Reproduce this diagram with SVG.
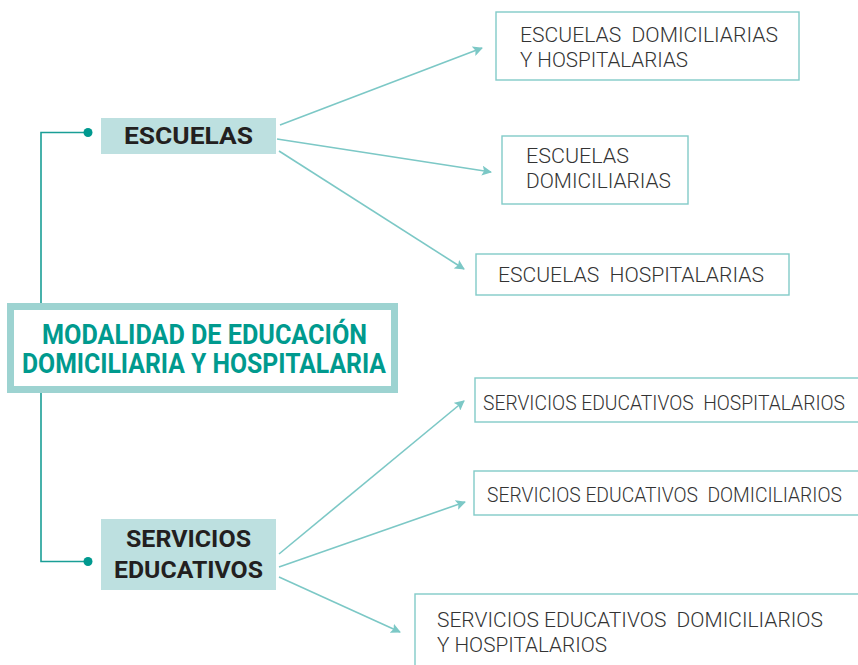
<svg xmlns="http://www.w3.org/2000/svg" width="858" height="665" viewBox="0 0 858 665">
<style>
.leaf{fill:#fff;stroke:#82cbc8;stroke-width:1.4}
.lt{font-family:Roboto,"Liberation Sans",sans-serif;font-weight:300;font-size:19.5px;fill:#333;white-space:pre}
.cat{fill:#bde0e0}
.ct{font-family:Roboto,"Liberation Sans",sans-serif;font-weight:700;font-size:23px;fill:#231f20;text-anchor:middle}
.mt{font-family:Roboto,"Liberation Sans",sans-serif;font-weight:700;font-size:27px;fill:#009a8e}
.arr{stroke:#7cc8c6;stroke-width:1.6;fill:none;marker-end:url(#ah)}
.tree{stroke:#1a9e96;stroke-width:1.6;fill:none}
</style>
<defs>
<marker id="ah" viewBox="0 0 10 10" refX="9" refY="5" markerWidth="10" markerHeight="10" markerUnits="userSpaceOnUse" orient="auto">
<path d="M0,0 L10,5 L0,10 L2,5 Z" fill="#7cc8c6"/>
</marker>
</defs>
<rect width="858" height="665" fill="#fff"/>
<g id="connectors">
<path class="tree" d="M41,303 V132.5 H88"/>
<path class="tree" d="M41,393 V561.5 H88"/>
<circle cx="88" cy="132.5" r="4.5" fill="#00998f"/>
<circle cx="88" cy="561.5" r="4.5" fill="#00998f"/>
<line class="arr" x1="280" y1="125" x2="482" y2="48"/>
<line class="arr" x1="277" y1="139" x2="491" y2="172"/>
<line class="arr" x1="279" y1="151" x2="464" y2="269"/>
<line class="arr" x1="279" y1="554" x2="464" y2="401"/>
<line class="arr" x1="279" y1="567" x2="465" y2="502"/>
<line class="arr" x1="279" y1="577" x2="400" y2="632"/>
</g>
<g id="main">
<rect x="10.5" y="306.5" width="384" height="83" fill="#fff" stroke="#9dd3d1" stroke-width="7"/>
<text class="mt" x="42" y="344" textLength="325" lengthAdjust="spacingAndGlyphs">MODALIDAD DE EDUCACIÓN</text>
<text class="mt" x="22" y="373" textLength="364" lengthAdjust="spacingAndGlyphs">DOMICILIARIA Y HOSPITALARIA</text>
</g>
<g id="escuelas">
<rect class="cat" x="101" y="118" width="175" height="36"/>
<text class="ct" x="188.5" y="144" textLength="129" lengthAdjust="spacingAndGlyphs">ESCUELAS</text>
</g>
<g id="servicios">
<rect class="cat" x="101" y="519" width="175" height="71"/>
<text class="ct" x="188.5" y="547" textLength="125" lengthAdjust="spacingAndGlyphs">SERVICIOS</text>
<text class="ct" x="188.5" y="578" textLength="149" lengthAdjust="spacingAndGlyphs">EDUCATIVOS</text>
</g>
<g id="esc-dom-hosp">
<rect class="leaf" x="496" y="12" width="303" height="68"/>
<text class="lt" x="520" y="42" textLength="258" lengthAdjust="spacingAndGlyphs">ESCUELAS  DOMICILIARIAS</text>
<text class="lt" x="520" y="67" textLength="168" lengthAdjust="spacingAndGlyphs">Y HOSPITALARIAS</text>
</g>
<g id="esc-dom">
<rect class="leaf" x="502" y="136" width="186" height="68"/>
<text class="lt" x="526" y="163" textLength="103" lengthAdjust="spacingAndGlyphs">ESCUELAS</text>
<text class="lt" x="526" y="188" textLength="145" lengthAdjust="spacingAndGlyphs">DOMICILIARIAS</text>
</g>
<g id="esc-hosp">
<rect class="leaf" x="476" y="254" width="313" height="41"/>
<text class="lt" x="498" y="282" textLength="266" lengthAdjust="spacingAndGlyphs">ESCUELAS  HOSPITALARIAS</text>
</g>
<g id="serv-hosp">
<rect class="leaf" x="475" y="378" width="400" height="44"/>
<text class="lt" x="483" y="410" textLength="362" lengthAdjust="spacingAndGlyphs">SERVICIOS EDUCATIVOS  HOSPITALARIOS</text>
</g>
<g id="serv-dom">
<rect class="leaf" x="474" y="471" width="400" height="44"/>
<text class="lt" x="487" y="502" textLength="355" lengthAdjust="spacingAndGlyphs">SERVICIOS EDUCATIVOS  DOMICILIARIOS</text>
</g>
<g id="serv-dom-hosp">
<rect class="leaf" x="415" y="594" width="460" height="100"/>
<text class="lt" x="437" y="627" textLength="386" lengthAdjust="spacingAndGlyphs">SERVICIOS EDUCATIVOS  DOMICILIARIOS</text>
<text class="lt" x="437" y="652" textLength="170" lengthAdjust="spacingAndGlyphs">Y HOSPITALARIOS</text>
</g>
</svg>
